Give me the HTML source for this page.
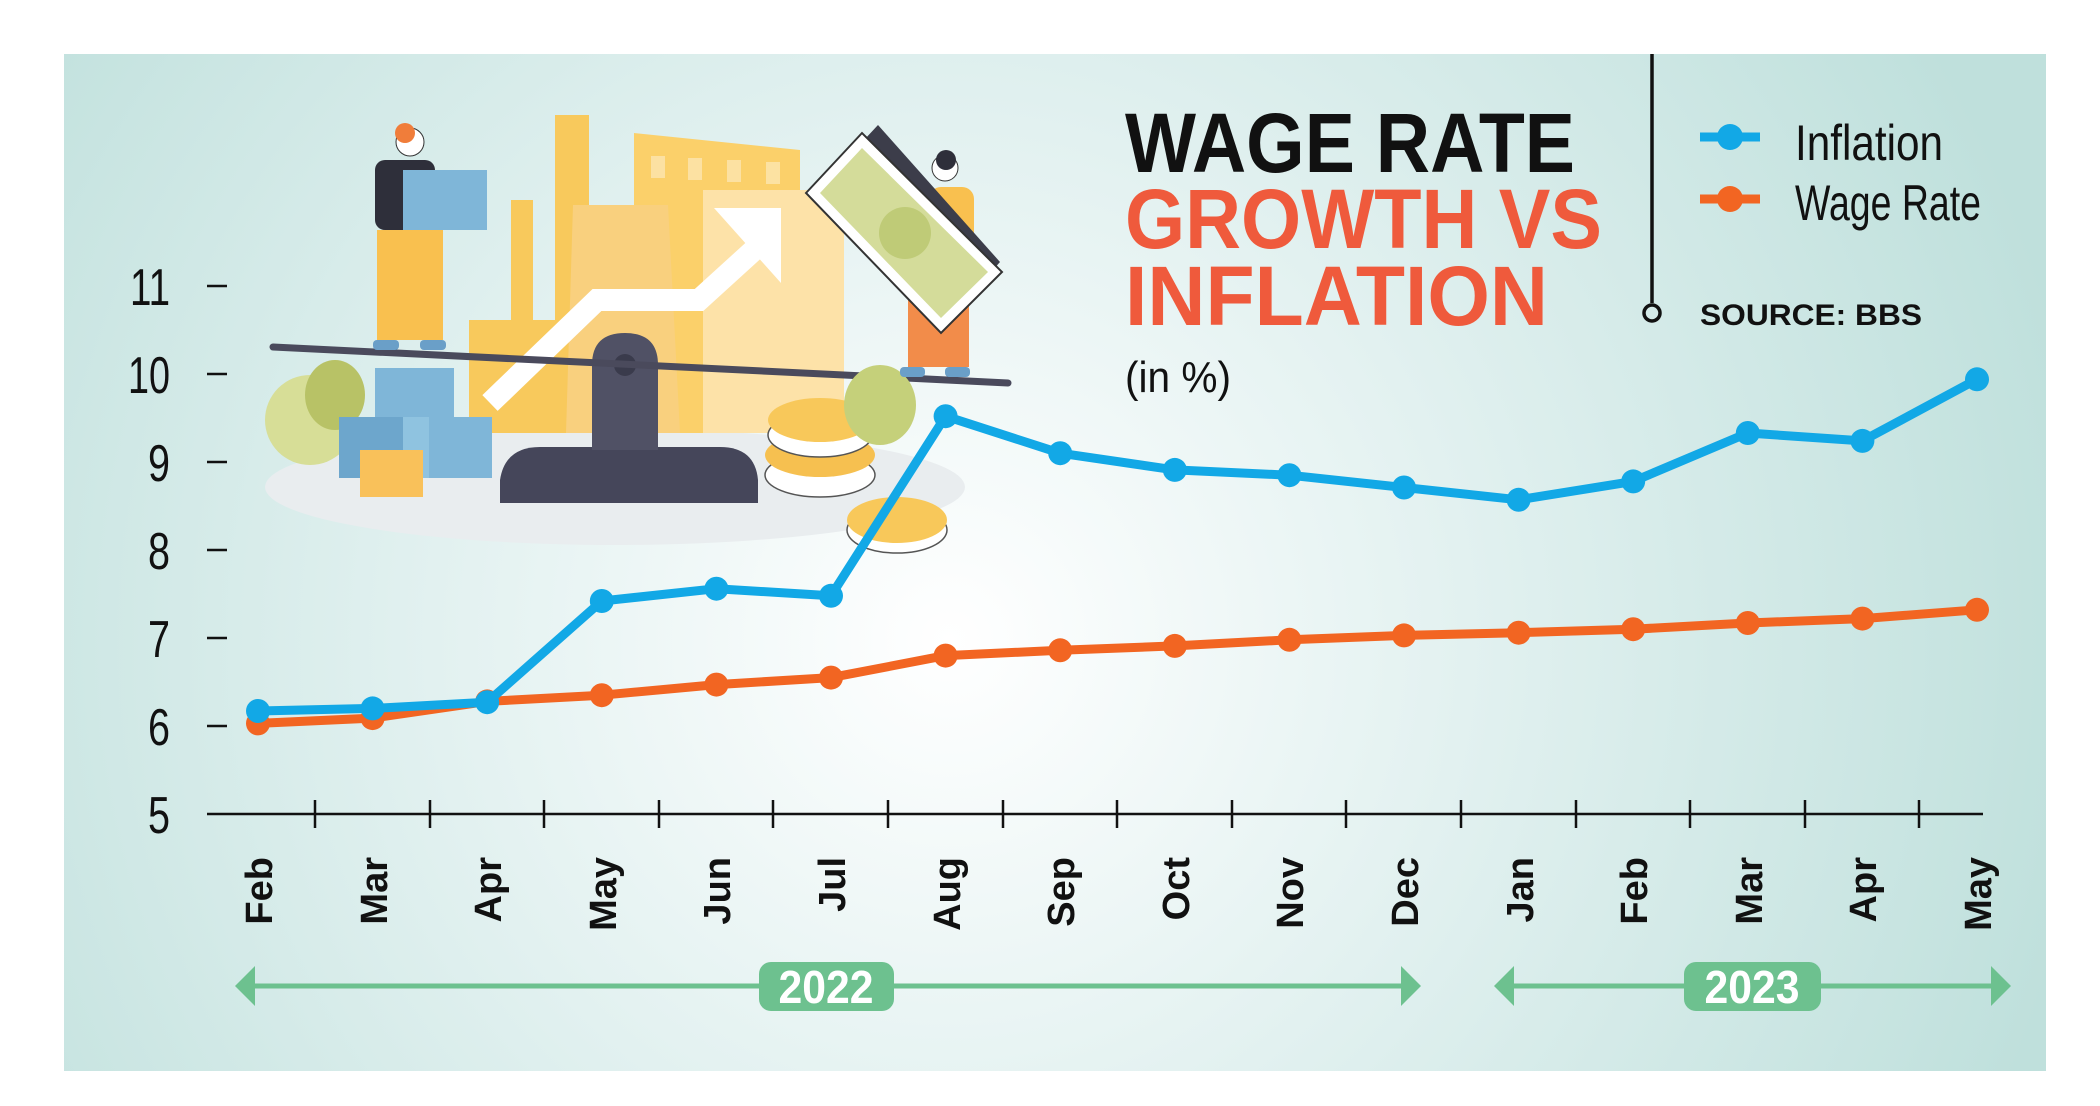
<!DOCTYPE html>
<html><head><meta charset="utf-8"><style>
html,body{margin:0;padding:0;background:#fff;}
svg{display:block;}
text{font-family:"Liberation Sans",sans-serif;}
</style></head><body>
<svg width="2100" height="1106" viewBox="0 0 2100 1106" xmlns="http://www.w3.org/2000/svg">
<defs>
<radialGradient id="bg" cx="950" cy="640" r="1150" gradientUnits="userSpaceOnUse">
<stop offset="0" stop-color="#ffffff"/>
<stop offset="0.45" stop-color="#e2f1f0"/>
<stop offset="1" stop-color="#bfe0dc"/>
</radialGradient>
</defs>
<rect x="0" y="0" width="2100" height="1106" fill="#fff"/>
<rect x="64" y="54" width="1982" height="1017" fill="url(#bg)"/>

<!-- illustration -->
<ellipse cx="615" cy="487" rx="350" ry="58" fill="#e9edef"/>
<rect x="555" y="115" width="34" height="318" fill="#f8c95c"/>
<rect x="511" y="200" width="22" height="130" fill="#f8c95c"/>
<rect x="469" y="320" width="90" height="113" fill="#f8c95c"/>
<polygon points="634,133 800,150 800,433 634,433" fill="#fbd06a"/>
<polygon points="573,205 668,205 680,433 566,433" fill="#f9d07e"/>
<rect x="703" y="190" width="141" height="243" fill="#fde2a8"/>
<g fill="#fde6b0" opacity="0.8">
<rect x="651" y="156" width="14" height="22"/><rect x="688" y="158" width="14" height="22"/><rect x="727" y="160" width="14" height="22"/><rect x="766" y="162" width="14" height="22"/>
</g>
<polyline points="490,403 597,300 699,300 765,240" fill="none" stroke="#fff" stroke-width="22"/>
<polygon points="714,208 781,208 781,283" fill="#fff"/>
<!-- plants left -->
<ellipse cx="310" cy="420" rx="45" ry="45" fill="#d7de97"/>
<ellipse cx="335" cy="395" rx="30" ry="35" fill="#b8c266"/>
<!-- boxes -->
<rect x="375" y="368" width="79" height="50" fill="#7fb6d8"/>
<rect x="339" y="417" width="64" height="61" fill="#6da6cc"/>
<rect x="403" y="417" width="26" height="61" fill="#8fc3e0"/>
<rect x="429" y="417" width="63" height="61" fill="#7fb6d8"/>
<rect x="360" y="450" width="63" height="47" fill="#f9c15a"/>
<!-- scale -->
<path d="M500,503 L500,480 Q505,447 540,447 L720,447 Q755,447 758,480 L758,503 Z" fill="#45465a"/>
<path d="M592,450 L592,365 Q592,333 625,333 Q658,333 658,365 L658,450 Z" fill="#505165"/>
<circle cx="625" cy="365" r="11" fill="#3a3b4c"/>
<line x1="273" y1="347" x2="1008" y2="383" stroke="#4a4a5c" stroke-width="7" stroke-linecap="round"/>
<!-- coins -->
<ellipse cx="820" cy="475" rx="55" ry="22" fill="#fff" stroke="#555" stroke-width="1.5"/>
<ellipse cx="820" cy="455" rx="55" ry="22" fill="#f6c050"/>
<ellipse cx="820" cy="435" rx="52" ry="22" fill="#fff" stroke="#555" stroke-width="1.5"/>
<ellipse cx="820" cy="420" rx="52" ry="22" fill="#f8c85a"/>
<ellipse cx="897" cy="530" rx="50" ry="23" fill="#fff" stroke="#555" stroke-width="1.5"/>
<ellipse cx="897" cy="520" rx="50" ry="23" fill="#f8c85a"/>
<ellipse cx="880" cy="405" rx="36" ry="40" fill="#c5d07a"/>
<!-- left person -->
<rect x="377" y="230" width="66" height="110" fill="#f9c04f"/>
<rect x="375" y="160" width="60" height="70" rx="10" fill="#2e2f3a"/>
<rect x="403" y="170" width="84" height="60" fill="#7fb6d8"/>
<circle cx="410" cy="142" r="14" fill="#fff" stroke="#333" stroke-width="1"/>
<circle cx="405" cy="133" r="10" fill="#f07d3a"/>
<rect x="373" y="340" width="26" height="10" rx="4" fill="#6a9fc8"/>
<rect x="420" y="340" width="26" height="10" rx="4" fill="#6a9fc8"/>
<!-- right person -->
<rect x="908" y="300" width="61" height="67" fill="#f28c4a"/>
<rect x="929" y="187" width="45" height="60" rx="12" fill="#f9c04f"/>
<circle cx="945" cy="168" r="13" fill="#fff" stroke="#333" stroke-width="1"/>
<circle cx="946" cy="160" r="10" fill="#2e2f3a"/>
<polygon points="822,185 878,125 1000,262 944,325" fill="#3c3d4a"/>
<polygon points="806,193 862,133 1002,272 941,333" fill="#fff" stroke="#333" stroke-width="2"/>
<polygon points="820,193 862,148 988,272 941,318" fill="#d4dc9a"/>
<circle cx="905" cy="233" r="26" fill="#bfcb77"/>
<rect x="900" y="367" width="25" height="10" rx="4" fill="#6a9fc8"/>
<rect x="945" y="367" width="25" height="10" rx="4" fill="#6a9fc8"/>

<!-- y axis -->
<g fill="#111" font-size="52" text-anchor="end">
<text x="170" y="305" textLength="40" lengthAdjust="spacingAndGlyphs">11</text>
<text x="170" y="393" textLength="42" lengthAdjust="spacingAndGlyphs">10</text>
<text x="170" y="481" textLength="22" lengthAdjust="spacingAndGlyphs">9</text>
<text x="170" y="569" textLength="22" lengthAdjust="spacingAndGlyphs">8</text>
<text x="170" y="657" textLength="22" lengthAdjust="spacingAndGlyphs">7</text>
<text x="170" y="745" textLength="22" lengthAdjust="spacingAndGlyphs">6</text>
<text x="170" y="833" textLength="22" lengthAdjust="spacingAndGlyphs">5</text>
</g>
<g stroke="#111" stroke-width="2.5">
<line x1="207" y1="286" x2="227" y2="286"/><line x1="207" y1="374" x2="227" y2="374"/>
<line x1="207" y1="462" x2="227" y2="462"/><line x1="207" y1="550" x2="227" y2="550"/>
<line x1="207" y1="638" x2="227" y2="638"/><line x1="207" y1="726" x2="227" y2="726"/>
<line x1="207" y1="814" x2="1983" y2="814"/>
<line x1="315" y1="800" x2="315" y2="828"/><line x1="430" y1="800" x2="430" y2="828"/>
<line x1="544" y1="800" x2="544" y2="828"/><line x1="659" y1="800" x2="659" y2="828"/>
<line x1="773" y1="800" x2="773" y2="828"/><line x1="888" y1="800" x2="888" y2="828"/>
<line x1="1003" y1="800" x2="1003" y2="828"/><line x1="1117" y1="800" x2="1117" y2="828"/>
<line x1="1232" y1="800" x2="1232" y2="828"/><line x1="1346" y1="800" x2="1346" y2="828"/>
<line x1="1461" y1="800" x2="1461" y2="828"/><line x1="1576" y1="800" x2="1576" y2="828"/>
<line x1="1690" y1="800" x2="1690" y2="828"/><line x1="1805" y1="800" x2="1805" y2="828"/>
<line x1="1919" y1="800" x2="1919" y2="828"/>
</g>

<!-- month labels -->
<g fill="#111" font-size="38" font-weight="bold" text-anchor="end">
<text transform="translate(272,857) rotate(-90)">Feb</text>
<text transform="translate(387,857) rotate(-90)">Mar</text>
<text transform="translate(501,857) rotate(-90)">Apr</text>
<text transform="translate(616,857) rotate(-90)">May</text>
<text transform="translate(730,857) rotate(-90)">Jun</text>
<text transform="translate(845,857) rotate(-90)">Jul</text>
<text transform="translate(960,857) rotate(-90)">Aug</text>
<text transform="translate(1074,857) rotate(-90)">Sep</text>
<text transform="translate(1189,857) rotate(-90)">Oct</text>
<text transform="translate(1303,857) rotate(-90)">Nov</text>
<text transform="translate(1418,857) rotate(-90)">Dec</text>
<text transform="translate(1533,857) rotate(-90)">Jan</text>
<text transform="translate(1647,857) rotate(-90)">Feb</text>
<text transform="translate(1762,857) rotate(-90)">Mar</text>
<text transform="translate(1876,857) rotate(-90)">Apr</text>
<text transform="translate(1991,857) rotate(-90)">May</text>
</g>

<!-- year arrows -->
<g stroke="#6dc18f" stroke-width="5" fill="#6dc18f">
<line x1="245" y1="986" x2="1410" y2="986"/>
<line x1="1505" y1="986" x2="2000" y2="986"/>
</g>
<g fill="#6dc18f">
<polygon points="235,986 255,966 255,1006"/>
<polygon points="1421,986 1401,966 1401,1006"/>
<polygon points="1494,986 1514,966 1514,1006"/>
<polygon points="2011,986 1991,966 1991,1006"/>
<rect x="759" y="962" width="135" height="49" rx="12"/>
<rect x="1684" y="962" width="137" height="49" rx="12"/>
</g>
<g fill="#fff" font-size="46" font-weight="bold" text-anchor="middle">
<text x="826" y="1003" textLength="95" lengthAdjust="spacingAndGlyphs">2022</text>
<text x="1752" y="1003" textLength="95" lengthAdjust="spacingAndGlyphs">2023</text>
</g>

<!-- series -->
<polyline fill="none" stroke="#f26522" stroke-width="9" stroke-linejoin="round"
points="258,723.4 372.6,718.1 487.2,701.4 601.8,695.2 716.4,684.6 831,677.6 945.6,655.6 1060.2,650.3 1174.8,645.9 1289.4,639.8 1404,635.4 1518.6,632.7 1633.2,629.2 1747.8,623 1862.4,618.6 1977,609.8"/>
<g fill="#f26522">
<circle cx="258" cy="723.4" r="12"/><circle cx="372.6" cy="718.1" r="12"/><circle cx="487.2" cy="701.4" r="12"/><circle cx="601.8" cy="695.2" r="12"/><circle cx="716.4" cy="684.6" r="12"/><circle cx="831" cy="677.6" r="12"/><circle cx="945.6" cy="655.6" r="12"/><circle cx="1060.2" cy="650.3" r="12"/><circle cx="1174.8" cy="645.9" r="12"/><circle cx="1289.4" cy="639.8" r="12"/><circle cx="1404" cy="635.4" r="12"/><circle cx="1518.6" cy="632.7" r="12"/><circle cx="1633.2" cy="629.2" r="12"/><circle cx="1747.8" cy="623" r="12"/><circle cx="1862.4" cy="618.6" r="12"/><circle cx="1977" cy="609.8" r="12"/>
</g>
<polyline fill="none" stroke="#12a8e6" stroke-width="9" stroke-linejoin="round"
points="258,711 372.6,708.4 487.2,702.2 601.8,601 716.4,588.7 831,595.8 945.6,416.2 1060.2,453.2 1174.8,469.9 1289.4,475.2 1404,487.5 1518.6,499.8 1633.2,481.4 1747.8,433 1862.4,440.9 1977,379.3"/>
<g fill="#12a8e6">
<circle cx="258" cy="711" r="12"/><circle cx="372.6" cy="708.4" r="12"/><circle cx="487.2" cy="702.2" r="12"/><circle cx="601.8" cy="601" r="12"/><circle cx="716.4" cy="588.7" r="12"/><circle cx="831" cy="595.8" r="12"/><circle cx="945.6" cy="416.2" r="12"/><circle cx="1060.2" cy="453.2" r="12"/><circle cx="1174.8" cy="469.9" r="12"/><circle cx="1289.4" cy="475.2" r="12"/><circle cx="1404" cy="487.5" r="12"/><circle cx="1518.6" cy="499.8" r="12"/><circle cx="1633.2" cy="481.4" r="12"/><circle cx="1747.8" cy="433" r="12"/><circle cx="1862.4" cy="440.9" r="12"/><circle cx="1977" cy="379.3" r="12"/>
</g>

<!-- title -->
<g font-weight="bold" font-size="84">
<text x="1125" y="172" fill="#111" textLength="450" lengthAdjust="spacingAndGlyphs">WAGE RATE</text>
<text x="1125" y="248" fill="#ef5a3c" textLength="477" lengthAdjust="spacingAndGlyphs">GROWTH VS</text>
<text x="1125" y="325" fill="#ef5a3c" textLength="423" lengthAdjust="spacingAndGlyphs">INFLATION</text>
</g>
<text x="1125" y="392" font-size="44" fill="#111" textLength="106" lengthAdjust="spacingAndGlyphs">(in %)</text>

<!-- legend -->
<line x1="1652" y1="54" x2="1652" y2="303" stroke="#111" stroke-width="3.5"/>
<circle cx="1652" cy="313" r="8" fill="none" stroke="#111" stroke-width="3.5"/>
<line x1="1700" y1="137" x2="1760" y2="137" stroke="#12a8e6" stroke-width="9"/>
<circle cx="1730" cy="137" r="13" fill="#12a8e6"/>
<line x1="1700" y1="199" x2="1760" y2="199" stroke="#f26522" stroke-width="9"/>
<circle cx="1730" cy="199" r="13" fill="#f26522"/>
<text x="1795" y="160" font-size="50" fill="#111" textLength="148" lengthAdjust="spacingAndGlyphs">Inflation</text>
<text x="1795" y="220" font-size="50" fill="#111" textLength="186" lengthAdjust="spacingAndGlyphs">Wage Rate</text>
<text x="1700" y="325" font-size="30" font-weight="bold" fill="#111" textLength="222" lengthAdjust="spacingAndGlyphs">SOURCE: BBS</text>
</svg>
</body></html>
